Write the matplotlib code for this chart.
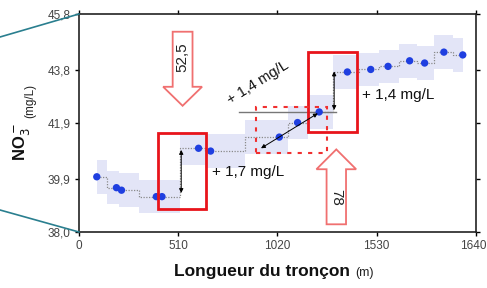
import matplotlib
matplotlib.use("Agg")
import matplotlib.pyplot as plt
import matplotlib.transforms as mtransforms
import numpy as np
from matplotlib.patches import Rectangle, Polygon
from matplotlib.lines import Line2D

plt.rcParams['font.family'] = ['Liberation Sans', 'DejaVu Sans']

# Data
dist = [92, 193, 219, 398, 427, 615, 677, 1030, 1124, 1235, 1380, 1500, 1589, 1700, 1777, 1876, 1973]
no3 = [39.98, 39.59, 39.50, 39.27, 39.27, 41.00, 40.90, 41.40, 41.92, 42.30, 43.73, 43.82, 43.93, 44.13, 44.05, 44.44, 44.34]
xticks = [0, 510, 1020, 1530, 2040]
xticklabels = ["0", "510", "1020", "1530", "1640"]
yticks = [38.0, 39.9, 41.9, 43.8, 45.8]
yticklabels = ["38,0", "39,9", "41,9", "43,8", "45,8"]
jump1_label = "+ 1,7 mg/L"
jump2_label = "+ 1,4 mg/L"
slope_label = "+ 1,4 mg/L"
arrow1_label = "52,5"
arrow2_label = "78"

fig = plt.figure(figsize=(4.87, 2.88), dpi=100)
ax = fig.add_axes([0.162, 0.194, 0.815, 0.757])

x = np.array(dist)
y = np.array(no3)
ax.fill_between(x, y - 0.6, y + 0.6, step='mid', color='#e3e5f7', lw=0, zorder=1)
ax.plot(x, y, drawstyle='steps-mid', color='#8a8a8a', ls=(0, (1, 1.2)), lw=0.9, zorder=2)
ax.scatter(x, y, s=28, color='#1f3fe0', zorder=5, edgecolors='none')

ax.set_xlim(0, 2040)
ax.set_ylim(38.0, 45.8)
ax.set_xticks(xticks)
ax.set_xticklabels(xticklabels)
ax.set_yticks(yticks)
ax.set_yticklabels(yticklabels)
ax.tick_params(axis='both', direction='out', length=3, width=1, labelsize=8.5,
               labelcolor='#444444', top=True, right=True, pad=3)
for s in ax.spines.values():
    s.set_linewidth(1.2)
    s.set_color('#222222')

# keep the last x tick label inside the figure
last = ax.get_xticklabels()[-1]
last.set_transform(last.get_transform() + mtransforms.ScaledTranslation(-3 / 100, 0, fig.dpi_scale_trans))

fig.text(0.719, 0.056, "Longueur du tronçon", fontsize=12.5, fontweight='bold',
         ha='right', va='center', color='#111111')
fig.text(0.729, 0.052, "(m)", fontsize=9, ha='left', va='center', color='#222222')
fig.text(0.045, 0.572, r"NO$_3^-$", fontsize=12, fontweight='bold', rotation=90,
         ha='center', va='top', color='#111111')
fig.text(0.062, 0.59, "(mg/L)", fontsize=8.5, rotation=90, ha='center', va='bottom',
         color='#222222')

# Red boxes
ax.add_patch(Rectangle((406, 38.82), 248, 2.72, fill=False, ec='#e8141b', lw=2, zorder=6))
ax.add_patch(Rectangle((1175, 41.57), 256, 2.89, fill=False, ec='#e8141b', lw=2, zorder=6))
ax.add_patch(Rectangle((911, 40.82), 362, 1.67, fill=False, ec='#f03030', lw=1.5,
                       ls=(0, (2, 3)), zorder=6))

# Jump arrows
ap = dict(arrowstyle='<|-|>', color='black', lw=0.7, mutation_scale=6, shrinkA=0, shrinkB=0)
ax.annotate("", xy=(526, 40.94), xytext=(526, 39.40), arrowprops=ap, zorder=7)
ax.annotate("", xy=(1312, 43.75), xytext=(1312, 42.37), arrowprops=ap, zorder=7)
ax.annotate("", xy=(936, 41.0), xytext=(1228, 42.25), arrowprops=ap, zorder=7)
ax.plot([825, 1320], [42.31, 42.31], color='#777777', lw=1.0, zorder=4)

ax.text(682, 40.15, jump1_label, fontsize=11, ha='left', va='center', color='#111111')
ax.text(1456, 42.91, jump2_label, fontsize=11, ha='left', va='center', color='#111111')
ax.text(918, 43.34, slope_label, fontsize=10.5, ha='center', va='center', rotation=32,
        color='#111111')

def hollow_arrow(xc, shaft_hw, head_hw, y_tail, y_base, y_tip):
    pts = [(xc - shaft_hw, y_tail), (xc + shaft_hw, y_tail), (xc + shaft_hw, y_base),
           (xc + head_hw, y_base), (xc, y_tip), (xc - head_hw, y_base), (xc - shaft_hw, y_base)]
    ax.add_patch(Polygon(pts, closed=True, fc='white', ec='#f07070', lw=1.3, zorder=6))

hollow_arrow(533, 51, 100, 45.17, 43.2, 42.52)
ax.text(533, 44.25, arrow1_label, rotation=90, fontsize=11, ha='center', va='center',
        color='#222222', zorder=7)
hollow_arrow(1323, 50, 102, 38.28, 40.25, 40.96)
ax.text(1323, 39.25, arrow2_label, rotation=-90, fontsize=11, ha='center', va='center',
        color='#222222', zorder=7)

# teal zoom lines to the left
fig.add_artist(Line2D([0, 0.162], [1 - 37 / 288, 1 - 14 / 288], transform=fig.transFigure,
                      color='#2a7f8f', lw=1.2))
fig.add_artist(Line2D([0, 0.162], [1 - 210 / 288, 1 - 232 / 288], transform=fig.transFigure,
                      color='#2a7f8f', lw=1.2))

fig.savefig("out.png", dpi=100)
